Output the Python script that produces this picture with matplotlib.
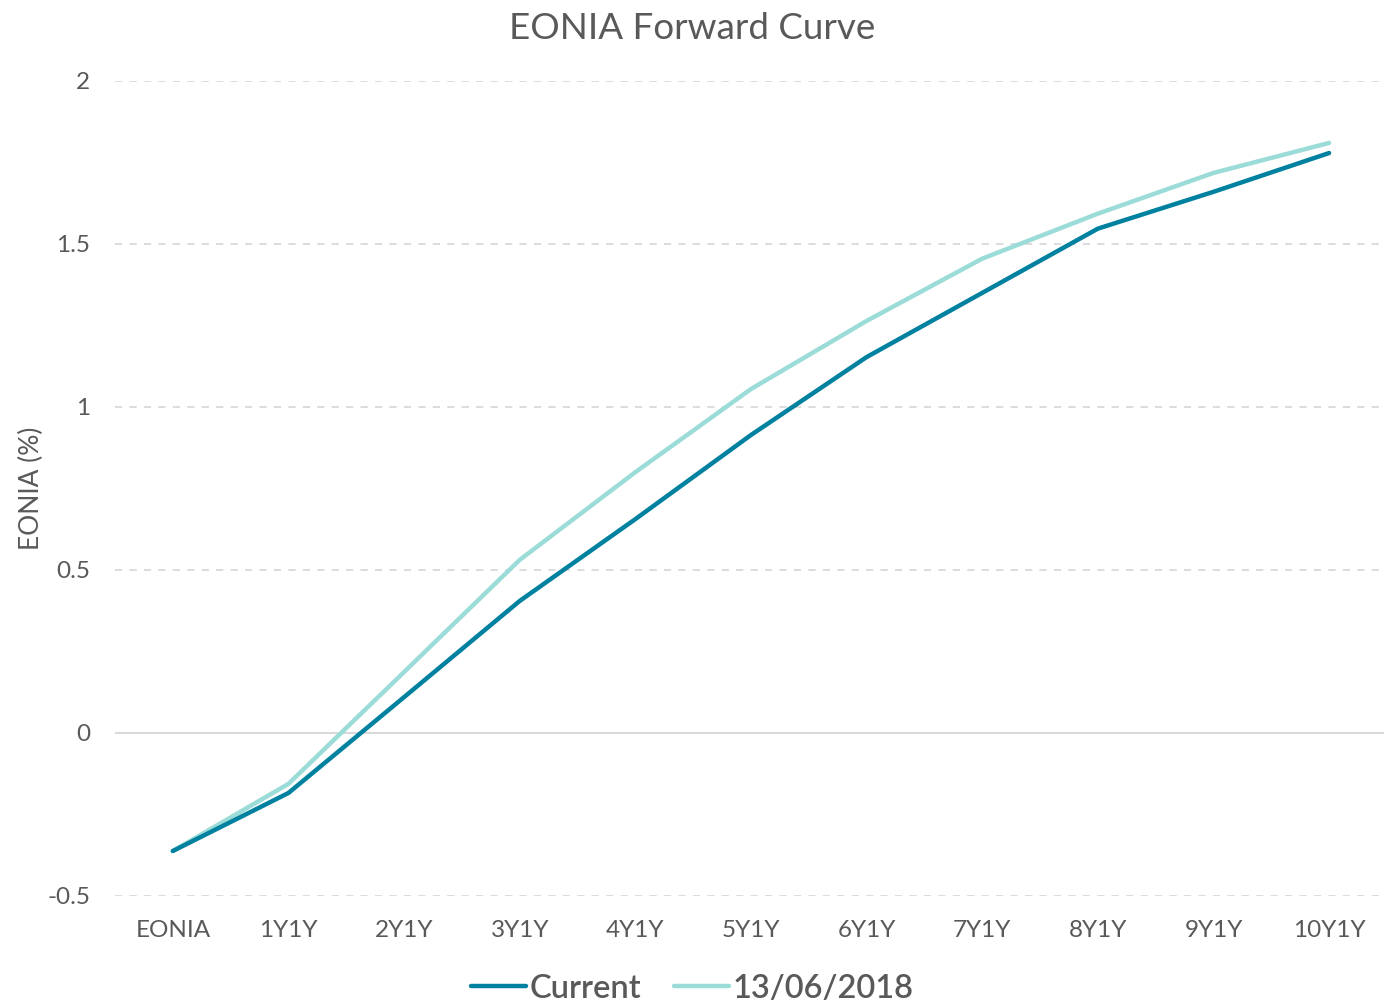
import matplotlib
matplotlib.use("Agg")
import matplotlib.pyplot as plt

plt.rcParams['font.family'] = ['Lato', 'DejaVu Sans']

tenors = ["EONIA", "1Y1Y", "2Y1Y", "3Y1Y", "4Y1Y", "5Y1Y",
          "6Y1Y", "7Y1Y", "8Y1Y", "9Y1Y", "10Y1Y"]
current = [-0.362, -0.184, 0.11, 0.405, 0.656, 0.914,
           1.153, 1.35, 1.547, 1.66, 1.779]
prev_jun = [-0.362, -0.156, 0.187, 0.531, 0.80, 1.055,
            1.264, 1.455, 1.593, 1.718, 1.81]
yticks = [-0.5, 0, 0.5, 1, 1.5, 2]
ytick_labels = ["-0.5", "0", "0.5", "1", "1.5", "2"]

grey = "#595959"

fig = plt.figure(figsize=(13.84, 10.01), dpi=100)
ax = fig.add_axes([0.0831, 0.1049, 0.919, 0.8142])

x = range(len(tenors))
ax.plot(x, current, color="#00819f", lw=3.2, solid_capstyle="round",
        label="Current", zorder=3)
ax.plot(x, prev_jun, color="#9bdcd8", lw=3.2, solid_capstyle="round",
        label="13/06/2018", zorder=2)

ax.set_xlim(-0.5, len(tenors) - 0.5)
ax.set_ylim(-0.5, 2)
ax.set_xticks(list(x))
ax.set_xticklabels(tenors)
ax.set_yticks(yticks)
ax.set_yticklabels(ytick_labels)

for s in ax.spines.values():
    s.set_visible(False)
ax.tick_params(length=0, colors=grey, labelsize=17.5)
ax.tick_params(axis='x', pad=17)
ax.tick_params(axis='y', pad=18)

for t in yticks:
    if t == 0:
        ax.axhline(t, color="#d9d9d9", lw=1.5, zorder=1)
    else:
        ax.axhline(t, color="#d9d9d9", lw=1.3, ls=(0, (4, 4)), zorder=1)

ax.set_ylabel("EONIA (%)", color=grey, fontsize=19, labelpad=2)
fig.text(0.5, 0.972, "EONIA Forward Curve", ha="center", va="center",
         color=grey, fontsize=26.5)

leg = fig.legend(loc="lower center", bbox_to_anchor=(0.5, -0.032), ncol=2,
                 frameon=False, fontsize=23.5, handlelength=1.7,
                 handletextpad=0.1, columnspacing=1.0)
for t in leg.get_texts():
    t.set_color(grey)
    t.set_fontweight("semibold")

fig.savefig("out.png", dpi=100)
